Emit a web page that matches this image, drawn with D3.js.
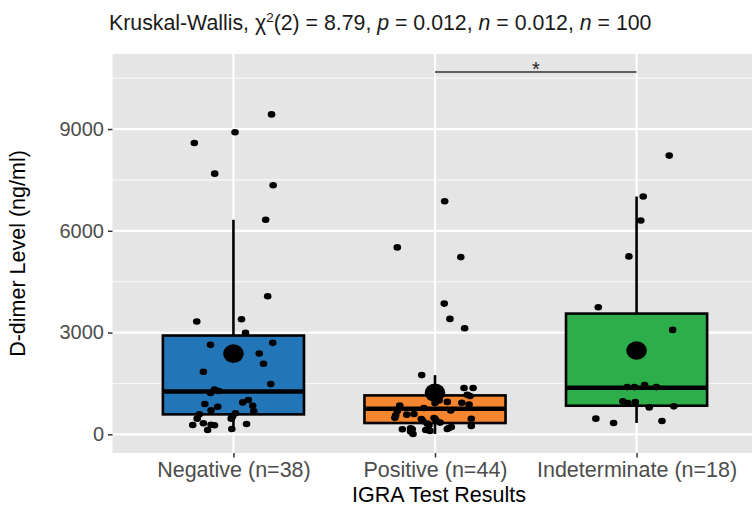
<!DOCTYPE html>
<html>
<head>
<meta charset="utf-8">
<script src="https://cdn.jsdelivr.net/npm/d3@7/dist/d3.min.js"></script>
<style>
  html, body { margin: 0; padding: 0; background: #ffffff; }
  svg { display: block; font-family: "Liberation Sans", Arial, Helvetica, sans-serif; }
</style>
</head>
<body>
<svg id="chart" width="752" height="507"></svg>
<script>
// ---------------- data ----------------
const categories = ["Negative", "Positive", "Indeterminate"];
const categoryLabels = ["Negative (n=38)", "Positive (n=44)", "Indeterminate (n=18)"];
const boxColors = ["#2275B6", "#F5852F", "#2DAE4B"];

// box statistics (ng/ml)
const whiskerLow = [127, 10, 333];
const q1Values = [588, 333, 843];
const medianValues = [1265, 755, 1373];
const q3Values = [2912, 1147, 3559];
const whiskerHigh = [6324, 1745, 7010];
const meanValues = [2380, 1225, 2470];

// individual observations (value) and their horizontal jitter (in category units)
const negativeValues = [9432, 8903, 8588, 7685, 7343, 6324, 4068, 3324, 3392, 2990, 2696, 2637, 2382, 2078, 1843, 1480, 1323, 1216, 1275, 1010, 941, 892, 814, 843, 706, 676, 588, 618, 461, 461, 274, 324, 284, 265, 304, 127, 156, 520];
const negativeJitter = [0.189, 0.008, -0.194, -0.093, 0.197, 0.160, 0.170, -0.182, 0.040, 0.060, 0.195, -0.114, 0.128, 0.149, -0.149, 0.185, -0.094, -0.114, -0.073, 0.074, 0.046, -0.142, -0.078, 0.096, -0.111, 0.101, -0.169, 0.010, -0.180, -0.011, -0.202, -0.149, -0.111, -0.094, 0.065, -0.128, -0.008, -0.005];

const positiveValues = [6873, 5510, 5225, 3853, 3402, 3127, 1745, 1365, 1365, 1165, 1130, 955, 930, 880, 920, 845, 775, 690, 580, 560, 490, 480, 460, 450, 390, 435, 345, 315, 245, 270, 215, 155, 188, 150, 150, 10, 125, 100, 178, 80, 705, 1000, 1250, 600];
const positiveJitter = [0.048, -0.187, 0.128, 0.046, 0.074, 0.147, -0.066, 0.144, 0.189, 0.160, 0.174, 0.061, 0.133, 0.169, 0.0, -0.175, -0.055, -0.187, -0.140, -0.195, -0.199, -0.005, 0.180, -0.068, -0.060, 0.003, 0.025, -0.038, 0.180, -0.030, 0.081, 0.061, 0.069, -0.162, -0.113, -0.109, -0.046, -0.025, -0.121, -0.121, 0.078, 0.020, -0.030, -0.104];

const indeterminateValues = [8216, 7010, 6304, 5245, 3745, 3078, 1451, 1392, 1392, 971, 922, 951, 794, 824, 461, 333, 392, 1392];
const indeterminateJitter = [0.162, 0.033, 0.021, -0.038, -0.190, 0.179, 0.040, -0.046, 0.098, -0.068, -0.043, -0.006, 0.063, 0.185, -0.202, -0.114, 0.126, -0.010];

const yTicks = [0, 3000, 6000, 9000];
const yMinorTicks = [1500, 4500, 7500, 10500];
const sigPair = ["Positive", "Indeterminate"];
const sigLevel = 10680;
const sigLabel = "*";

// ---------------- layout ----------------
const svg = d3.select("#chart");
const panel = { left: 112.5, right: 757.5, top: 54, bottom: 453 };

const x = d3.scalePoint().domain(categories).range([panel.left, panel.right]).padding(0.6);
const step = x.step();
const y = d3.scaleLinear().domain([-551, 11212]).range([panel.bottom, panel.top]);

// panel background
svg.append("rect")
  .attr("x", panel.left).attr("y", panel.top)
  .attr("width", panel.right - panel.left).attr("height", panel.bottom - panel.top)
  .attr("fill", "#E5E5E5");

// grid lines
const grid = svg.append("g");
grid.selectAll("line.minor").data(yMinorTicks).join("line")
  .attr("x1", panel.left).attr("x2", panel.right)
  .attr("y1", d => y(d)).attr("y2", d => y(d))
  .attr("stroke", "#F7F7F7").attr("stroke-width", 1.1);
grid.selectAll("line.majorY").data(yTicks).join("line")
  .attr("x1", panel.left).attr("x2", panel.right)
  .attr("y1", d => y(d)).attr("y2", d => y(d))
  .attr("stroke", "#FFFFFF").attr("stroke-width", 2.2);
grid.selectAll("line.majorX").data(categories).join("line")
  .attr("x1", d => x(d)).attr("x2", d => x(d))
  .attr("y1", panel.top).attr("y2", panel.bottom)
  .attr("stroke", "#FFFFFF").attr("stroke-width", 2.2);

// boxes
const boxW = step * 0.7;
const boxes = svg.append("g");
categories.forEach((c, i) => {
  const cx = x(c);
  const g = boxes.append("g");
  g.append("line").attr("x1", cx).attr("x2", cx)
    .attr("y1", y(q3Values[i])).attr("y2", y(whiskerHigh[i]))
    .attr("stroke", "#000").attr("stroke-width", 2.6);
  g.append("line").attr("x1", cx).attr("x2", cx)
    .attr("y1", y(q1Values[i])).attr("y2", y(whiskerLow[i]))
    .attr("stroke", "#000").attr("stroke-width", 2.6);
  g.append("rect")
    .attr("x", cx - boxW / 2).attr("width", boxW)
    .attr("y", y(q3Values[i])).attr("height", y(q1Values[i]) - y(q3Values[i]))
    .attr("fill", boxColors[i]).attr("stroke", "#000").attr("stroke-width", 2.6);
  g.append("line").attr("x1", cx - boxW / 2).attr("x2", cx + boxW / 2)
    .attr("y1", y(medianValues[i])).attr("y2", y(medianValues[i]))
    .attr("stroke", "#000").attr("stroke-width", 4.5);
});

// jittered points
const groups = [
  { cat: "Negative", values: negativeValues, jitter: negativeJitter },
  { cat: "Positive", values: positiveValues, jitter: positiveJitter },
  { cat: "Indeterminate", values: indeterminateValues, jitter: indeterminateJitter }
];
const pts = svg.append("g");
groups.forEach(gr => {
  pts.selectAll(null).data(gr.values.map((v, k) => ({ v, j: gr.jitter[k] }))).join("ellipse")
    .attr("cx", d => x(gr.cat) + d.j * step)
    .attr("cy", d => y(d.v))
    .attr("rx", 3.8).attr("ry", 3.3)
    .attr("fill", "#000");
});

// means
svg.append("g").selectAll("ellipse").data(meanValues).join("ellipse")
  .attr("cx", (d, i) => x(categories[i]))
  .attr("cy", d => y(d))
  .attr("rx", 10.3).attr("ry", 9.3)
  .attr("fill", "#000");

// significance bracket
svg.append("line")
  .attr("x1", x(sigPair[0])).attr("x2", x(sigPair[1]))
  .attr("y1", y(sigLevel)).attr("y2", y(sigLevel))
  .attr("stroke", "#333333").attr("stroke-width", 1.6);
svg.append("text")
  .attr("x", (x(sigPair[0]) + x(sigPair[1])) / 2)
  .attr("y", y(sigLevel) + 4)
  .attr("text-anchor", "middle")
  .attr("font-size", 20)
  .attr("fill", "#222")
  .text(sigLabel);

// y axis
const yAxis = d3.axisLeft(y).tickValues(yTicks).tickSize(4.5).tickPadding(4).tickFormat(d3.format("d"));
const ya = svg.append("g").attr("transform", `translate(${panel.left},0)`).call(yAxis);
ya.select(".domain").remove();
ya.selectAll(".tick line").attr("stroke", "#333333").attr("stroke-width", 1.5);
ya.selectAll(".tick text").attr("font-size", 20).attr("fill", "#4D4D4D")
  .attr("font-family", "Liberation Sans, Arial, sans-serif");

// x axis
const xAxis = d3.axisBottom(x).tickSize(4.5).tickPadding(4).tickFormat((d, i) => categoryLabels[i]);
const xa = svg.append("g").attr("transform", `translate(0,${panel.bottom})`).call(xAxis);
xa.select(".domain").remove();
xa.selectAll(".tick line").attr("stroke", "#333333").attr("stroke-width", 1.5);
xa.selectAll(".tick text").attr("font-size", 21.5).attr("fill", "#4D4D4D")
  .attr("font-family", "Liberation Sans, Arial, sans-serif");

// axis titles
svg.append("text")
  .attr("x", 439).attr("y", 502)
  .attr("text-anchor", "middle").attr("font-size", 21.5).attr("fill", "#000")
  .text("IGRA Test Results");
svg.append("text")
  .attr("transform", `translate(25,${(panel.top + panel.bottom) / 2}) rotate(-90)`)
  .attr("text-anchor", "middle").attr("font-size", 21.5).attr("fill", "#000")
  .text("D-dimer Level (ng/ml)");

// title
const title = svg.append("text").attr("x", 109).attr("y", 30).attr("font-size", 21.3).attr("fill", "#1a1a1a");
title.append("tspan").text("Kruskal-Wallis, χ");
title.append("tspan").attr("font-size", 13.5).attr("dy", -8.5).text("2");
title.append("tspan").attr("dy", 8.5).text("(2) = 8.79, ");
title.append("tspan").attr("font-style", "italic").text("p");
title.append("tspan").text(" = 0.012, ");
title.append("tspan").attr("font-style", "italic").text("n");
title.append("tspan").text(" = 0.012, ");
title.append("tspan").attr("font-style", "italic").text("n");
title.append("tspan").text(" = 100");
</script>
</body>
</html>
